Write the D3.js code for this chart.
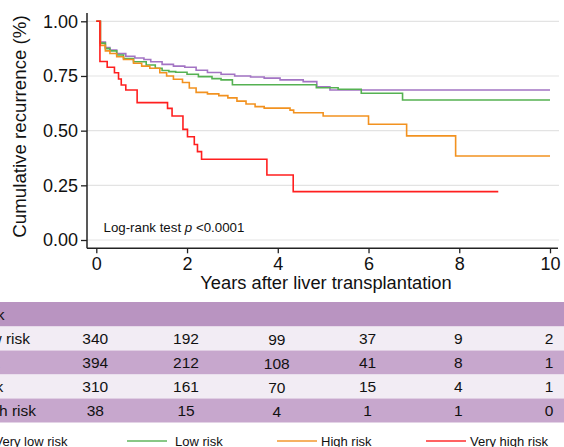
<!DOCTYPE html>
<html>
<head>
<meta charset="utf-8">
<script src="https://cdn.jsdelivr.net/npm/d3@7"></script>
<style>
  body { margin: 0; background: #fff; }
  svg { display: block; font-family: "Liberation Sans", Arial, sans-serif; }
</style>
</head>
<body>
<div class="container"></div>
<script>
// risk groups, in legend / table order
var groups = ['Very low risk', 'Low risk', 'High risk', 'Very high risk'];
var colors = ['#a374c4', '#55b152', '#f29220', '#ff1f1f'];

// Kaplan-Meier steps (years, cumulative proportion)
var veryLowT = [0, 0.09, 0.2, 0.3, 0.45, 0.65, 0.85, 1.05, 1.2, 1.45, 1.7, 1.95, 2.2, 2.45, 2.75, 3.05, 3.4, 3.7, 4.05, 4.56, 4.86, 5.15, 10];
var veryLowS = [1, 0.905, 0.88, 0.869, 0.852, 0.84, 0.832, 0.825, 0.815, 0.803, 0.795, 0.79, 0.776, 0.766, 0.758, 0.75, 0.745, 0.74, 0.732, 0.724, 0.70, 0.686, 0.686];

var lowT = [0, 0.09, 0.2, 0.3, 0.45, 0.6, 0.82, 1.1, 1.3, 1.45, 1.6, 1.75, 2.0, 2.25, 2.55, 2.75, 3.0, 4.85, 5.33, 5.84, 6.75, 10];
var lowS = [1, 0.90, 0.875, 0.865, 0.846, 0.83, 0.815, 0.80, 0.785, 0.775, 0.77, 0.767, 0.758, 0.747, 0.738, 0.732, 0.71, 0.696, 0.689, 0.671, 0.640, 0.640];

var highT = [0, 0.09, 0.2, 0.3, 0.45, 0.6, 0.82, 1.0, 1.18, 1.4, 1.55, 1.7, 1.9, 2.05, 2.2, 2.45, 2.7, 2.9, 3.1, 3.3, 3.5, 3.7, 4.27, 4.35, 5.0, 6.0, 6.84, 7.92, 10];
var highS = [1, 0.89, 0.865, 0.853, 0.838, 0.825, 0.808, 0.795, 0.785, 0.765, 0.75, 0.735, 0.72, 0.695, 0.675, 0.668, 0.66, 0.65, 0.635, 0.622, 0.61, 0.603, 0.594, 0.582, 0.567, 0.529, 0.476, 0.384, 0.384];

var veryHighT = [0, 0.08, 0.24, 0.40, 0.49, 0.55, 0.65, 0.90, 1.57, 1.67, 1.91, 2.01, 2.16, 2.23, 2.32, 3.76, 4.34, 8.86];
var veryHighS = [1, 0.816, 0.79, 0.765, 0.736, 0.709, 0.686, 0.628, 0.602, 0.567, 0.506, 0.472, 0.437, 0.404, 0.369, 0.297, 0.221, 0.221];

var curveT = [veryLowT, lowT, highT, veryHighT];
var curveS = [veryLowS, lowS, highS, veryHighS];

// number at risk table
var riskTimes = [0, 2, 4, 6, 8, 10];
var riskVeryLow = [340, 192, 99, 37, 9, 2];
var riskLow = [394, 212, 108, 41, 8, 1];
var riskHigh = [310, 161, 70, 15, 4, 1];
var riskVeryHigh = [38, 15, 4, 1, 1, 0];
var riskRows = [riskVeryLow, riskLow, riskHigh, riskVeryHigh];

var yTicks = [0, 0.25, 0.5, 0.75, 1];
var xTicks = [0, 2, 4, 6, 8, 10];

var W = 564, H = 447;
var svg = d3.select('.container').append('svg').attr('width', W).attr('height', H);

var x = d3.scaleLinear().domain([0, 10]).range([96.3, 550]);
var y = d3.scaleLinear().domain([0, 1]).range([240, 21.3]);
var axisX = 87, axisY = 248.3;

// gridlines
svg.append('g').selectAll('line')
	.data(yTicks)
	.enter()
	.append('line')
	.attr('x1', axisX).attr('x2', 559)
	.attr('y1', function(d){ return y(d); })
	.attr('y2', function(d){ return y(d); })
	.attr('stroke', '#e3e3e3')
	.attr('stroke-width', 1.2);

// axes
var yAxis = svg.append('g')
	.attr('transform', 'translate(' + axisX + ',0)')
	.call(d3.axisLeft(y).tickValues(yTicks).tickFormat(d3.format('.2f')).tickSize(6).tickPadding(3));
var xAxis = svg.append('g')
	.attr('transform', 'translate(0,' + axisY + ')')
	.call(d3.axisBottom(x).tickValues(xTicks).tickFormat(d3.format('d')).tickSize(5).tickPadding(4));

[yAxis, xAxis].forEach(function(g){
	g.select('.domain').remove();
	g.selectAll('.tick line').attr('stroke', '#222').attr('stroke-width', 1.3);
	g.selectAll('.tick text').attr('fill', '#111').style('font-size', '18px').style('font-family', '"Liberation Sans", Arial, sans-serif');
});

svg.append('line').attr('x1', axisX).attr('x2', axisX).attr('y1', 13).attr('y2', axisY)
	.attr('stroke', '#222').attr('stroke-width', 1.5);
svg.append('line').attr('x1', axisX).attr('x2', 558).attr('y1', axisY).attr('y2', axisY)
	.attr('stroke', '#222').attr('stroke-width', 1.5);

// axis titles
svg.append('text')
	.attr('transform', 'translate(26,126.5) rotate(-90)')
	.attr('text-anchor', 'middle')
	.style('font-size', '18.7px')
	.attr('fill', '#111')
	.text('Cumulative recurrence (%)');

svg.append('text')
	.attr('x', 326).attr('y', 288.5)
	.attr('text-anchor', 'middle')
	.style('font-size', '18.3px')
	.attr('fill', '#111')
	.text('Years after liver transplantation');

// log-rank annotation
var note = svg.append('text')
	.attr('x', 103.5).attr('y', 231.5)
	.style('font-size', '13.3px')
	.attr('fill', '#111');
note.append('tspan').text('Log-rank test ');
note.append('tspan').style('font-style', 'italic').text('p');
note.append('tspan').text(' <0.0001');

// survival curves
var line = d3.line()
	.x(function(d){ return x(d[0]); })
	.y(function(d){ return y(d[1]); })
	.curve(d3.curveStepAfter);

svg.append('g').selectAll('path')
	.data(groups)
	.enter()
	.append('path')
	.attr('d', function(d, i){
		return line(d3.zip(curveT[i], curveS[i]));
	})
	.attr('fill', 'none')
	.attr('stroke', function(d, i){ return colors[i]; })
	.attr('stroke-width', 1.6);

// number at risk table
var tableTop = 302, headH = 24.5, rowH = 24;
var rowFills = ['#f2ecf4', '#c7a7cd', '#f2ecf4', '#c7a7cd'];

svg.append('rect')
	.attr('x', 0).attr('y', tableTop).attr('width', W).attr('height', headH)
	.attr('fill', '#b994c1');
svg.append('text')
	.attr('x', 4.5).attr('y', tableTop + 18)
	.attr('text-anchor', 'end')
	.style('font-size', '15.5px')
	.attr('fill', '#111')
	.text('Number at risk');

var rows = svg.append('g').selectAll('g')
	.data(riskRows)
	.enter()
	.append('g')
	.attr('transform', function(d, i){ return 'translate(0,' + (tableTop + headH + i * rowH) + ')'; });

rows.append('rect')
	.attr('x', 0).attr('width', W).attr('height', rowH)
	.attr('fill', function(d, i){ return rowFills[i]; });

rows.append('text')
	.attr('x', -57).attr('y', 17.5)
	.style('font-size', '15.5px')
	.attr('fill', '#111')
	.text(function(d, i){ return groups[i]; });

rows.selectAll('text.n')
	.data(function(d){ return d; })
	.enter()
	.append('text')
	.attr('class', 'n')
	.attr('x', function(d, j){ return x(riskTimes[j]) - 1; })
	.attr('y', function(d, j){ return j === 2 ? 18.5 : 17.5; })
	.attr('text-anchor', 'middle')
	.style('font-size', '15.5px')
	.attr('fill', '#111')
	.text(function(d){ return d; });

// legend
var legendX = [-52, 127, 277, 426];
var legendTextX = [-5.5, 175, 321, 470];
var legend = svg.append('g').selectAll('g')
	.data(groups)
	.enter()
	.append('g');

legend.append('line')
	.attr('x1', function(d, i){ return legendX[i]; })
	.attr('x2', function(d, i){ return legendX[i] + 40; })
	.attr('y1', 441).attr('y2', 441)
	.attr('stroke', function(d, i){ return colors[i]; })
	.attr('stroke-opacity', 0.7)
	.attr('stroke-width', 2);

legend.append('text')
	.attr('x', function(d, i){ return legendTextX[i]; })
	.attr('y', 445.5)
	.style('font-size', '13px')
	.attr('fill', '#111')
	.text(function(d){ return d; });
</script>
</body>
</html>
